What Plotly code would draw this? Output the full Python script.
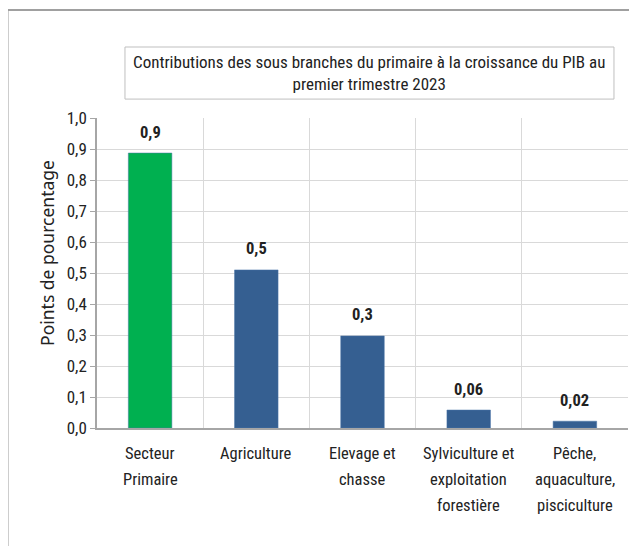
import plotly.graph_objects as go

# data
categories = ["Secteur Primaire", "Agriculture", "Elevage et chasse",
              "Sylviculture et exploitation forestière", "Pêche, aquaculture, pisciculture"]
category_lines = [["Secteur", "Primaire"], ["Agriculture"], ["Elevage et", "chasse"],
                  ["Sylviculture et", "exploitation", "forestière"],
                  ["Pêche,", "aquaculture,", "pisciculture"]]
values = [0.887, 0.51, 0.297, 0.058, 0.022]
value_labels = ["0,9", "0,5", "0,3", "0,06", "0,02"]
bar_colors = ["#00B050", "#355F91", "#355F91", "#355F91", "#355F91"]
y_ticks = [0.0, 0.1, 0.2, 0.3, 0.4, 0.5, 0.6, 0.7, 0.8, 0.9, 1.0]

FONT = "Liberation Sans Narrow, Roboto Condensed, Arial Narrow, sans-serif"
WIDE = "Noto Sans, Open Sans, sans-serif"
TXT = "#222222"

fig = go.Figure()
fig.add_trace(go.Bar(x=categories, y=values, marker=dict(color=bar_colors, line=dict(color="#4A74A8", width=0.5)),
                     width=0.41, hoverinfo="skip"))

# value labels above bars
for cat, v, lab in zip(categories, values, value_labels):
    fig.add_annotation(x=cat, y=v, text="<b>" + lab + "</b>", showarrow=False, yanchor="middle", yshift=21,
                       font=dict(family=FONT, size=16.5, color=TXT))

# category labels, one annotation per line for Excel-like spacing
for cat, lines in zip(categories, category_lines):
    for i, line in enumerate(lines):
        fig.add_annotation(x=cat, y=0, text=line, showarrow=False, yanchor="middle", yshift=-25 - i * 26,
                           font=dict(family=FONT, size=16.5, color=TXT))

# y-axis title
fig.add_annotation(x=-0.094, y=0.565, xref="paper", yref="paper", text="Points de pourcentage", textangle=-90,
                   showarrow=False, xanchor="center", yanchor="middle",
                   font=dict(family=WIDE, size=17.5, color=TXT))

# title in a box
fig.add_shape(type="rect", xref="paper", yref="paper", x0=0.0527, x1=0.9736, y0=1.061, y1=1.229,
              line=dict(color="#BFBFBF", width=1), fillcolor="white", layer="below")
fig.add_annotation(x=0.513, y=1.145, xref="paper", yref="paper", showarrow=False, xanchor="center",
                   yanchor="middle",
                   text="Contributions des sous branches du primaire à la croissance du PIB au<br>premier trimestre 2023",
                   font=dict(family=FONT, size=17, color=TXT))

# outer chart frame (cut by the picture edge)
fig.add_shape(type="rect", xref="paper", yref="paper", x0=-0.1685, x1=1.2, y0=-0.6, y1=1.348,
              line=dict(color="#A0A0A0", width=2), layer="below")

# page body has an 8px margin, so the figure is shrunk by that much
fig.update_layout(
    width=629, height=538,
    margin=dict(l=89, r=9, t=110, b=118),
    paper_bgcolor="white", plot_bgcolor="white",
    separators=", ",
    showlegend=False,
    font=dict(family=FONT, size=16, color=TXT),
)
fig.update_xaxes(type="category", tickson="boundaries", showgrid=True, gridcolor="#D9D9D9", gridwidth=1,
                 showticklabels=False, ticks="", showline=True, linecolor="#A6A6A6", linewidth=1.5,
                 mirror=False, zeroline=False)
fig.update_yaxes(range=[0, 1.0], tickvals=y_ticks, tickformat=".1f", showgrid=True, gridcolor="#D9D9D9",
                 gridwidth=1, showline=True, linecolor="#A6A6A6", linewidth=1.5, ticks="outside", ticklen=5,
                 tickcolor="#A6A6A6", zeroline=False, tickfont=dict(family=FONT, size=17, color=TXT))

fig.write_html("out.html")
